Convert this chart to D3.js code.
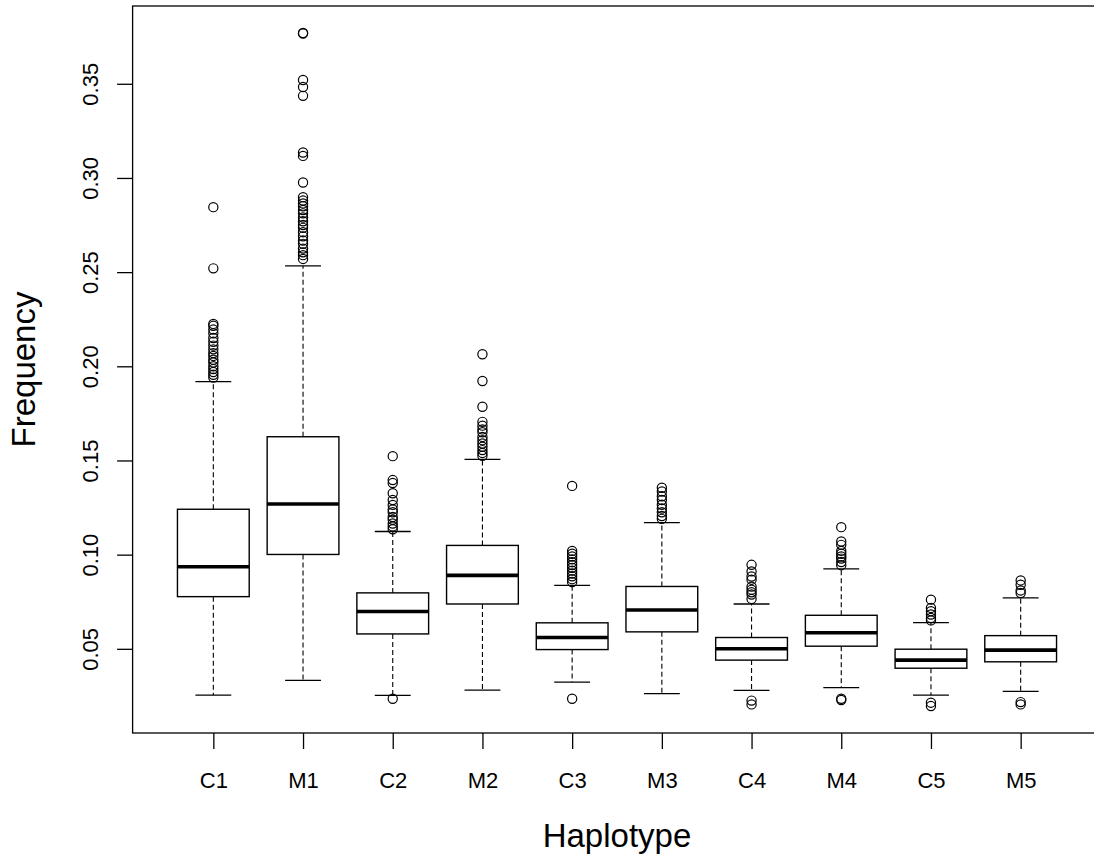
<!DOCTYPE html>
<html>
<head>
<meta charset="utf-8">
<script src="https://cdn.jsdelivr.net/npm/d3@7"></script>
<style>
  html, body { margin: 0; padding: 0; background: #fff; }
  svg { display: block; }
  text { font-family: "Liberation Sans", Arial, sans-serif; fill: #000; }
</style>
</head>
<body>
<svg id="chart" width="1094" height="860"></svg>
<script>
// ---- data ----
const categories = ["C1", "M1", "C2", "M2", "C3", "M3", "C4", "M4", "C5", "M5"];
const lowerWhisker = [0.0254, 0.0332, 0.0253, 0.0281, 0.0323, 0.0262, 0.0279, 0.0294, 0.0254, 0.0274];
const q1Values     = [0.0777, 0.1001, 0.0579, 0.0738, 0.0496, 0.0590, 0.0440, 0.0514, 0.0397, 0.0431];
const medianValues = [0.0936, 0.1269, 0.0698, 0.0890, 0.0560, 0.0706, 0.0500, 0.0585, 0.0440, 0.0493];
const q3Values     = [0.1241, 0.1626, 0.0797, 0.1049, 0.0638, 0.0831, 0.0560, 0.0678, 0.0498, 0.0570];
const upperWhisker = [0.1919, 0.2533, 0.1123, 0.1506, 0.0837, 0.1170, 0.0738, 0.0924, 0.0639, 0.0770];
const outliersC1 = [0.1940, 0.1955, 0.1970, 0.1985, 0.2000, 0.2020, 0.2035, 0.2055, 0.2070, 0.2090, 0.2110, 0.2130, 0.2150, 0.2175, 0.2195, 0.2215, 0.2225, 0.2520, 0.2845];
const outliersM1 = [0.2570, 0.2590, 0.2605, 0.2625, 0.2650, 0.2668, 0.2690, 0.2712, 0.2735, 0.2750, 0.2770, 0.2790, 0.2812, 0.2830, 0.2850, 0.2865, 0.2880, 0.2898, 0.2976, 0.3117, 0.3135, 0.3436, 0.3483, 0.3520, 0.3767, 0.3770];
const outliersC2 = [0.0235, 0.1135, 0.1150, 0.1165, 0.1185, 0.1200, 0.1225, 0.1240, 0.1264, 0.1290, 0.1326, 0.1380, 0.1396, 0.1523];
const outliersM2 = [0.1525, 0.1540, 0.1555, 0.1573, 0.1590, 0.1608, 0.1625, 0.1650, 0.1665, 0.1685, 0.1705, 0.1785, 0.1922, 0.2064];
const outliersC3 = [0.0235, 0.0855, 0.0870, 0.0885, 0.0900, 0.0915, 0.0930, 0.0945, 0.0960, 0.0975, 0.0990, 0.1005, 0.1020, 0.1365];
const outliersM3 = [0.1190, 0.1205, 0.1225, 0.1245, 0.1265, 0.1290, 0.1310, 0.1335, 0.1355];
const outliersC4 = [0.0205, 0.0225, 0.0765, 0.0788, 0.0800, 0.0814, 0.0830, 0.0867, 0.0884, 0.0911, 0.0946];
const outliersM4 = [0.0228, 0.0235, 0.0944, 0.0961, 0.0979, 0.0990, 0.1005, 0.1020, 0.1052, 0.1070, 0.1146];
const outliersC5 = [0.0196, 0.0214, 0.0651, 0.0664, 0.0682, 0.0700, 0.0717, 0.0761];
const outliersM5 = [0.0205, 0.0217, 0.0796, 0.0810, 0.0840, 0.0863];
const outlierLists = [outliersC1, outliersM1, outliersC2, outliersM2, outliersC3, outliersM3, outliersC4, outliersM4, outliersC5, outliersM5];
const yTickValues = [0.05, 0.10, 0.15, 0.20, 0.25, 0.30, 0.35];
const xTitle = "Haplotype";
const yTitle = "Frequency";

// ---- build table ----
const boxes = categories.map((c, i) => ({
  cat: c, pos: i + 1,
  lo: lowerWhisker[i], q1: q1Values[i], med: medianValues[i], q3: q3Values[i], hi: upperWhisker[i],
  out: outlierLists[i]
}));

// ---- layout ----
const plot = { left: 132.6, right: 1101.4, top: 6, bottom: 733 };

const allVals = boxes.flatMap(b => [b.lo, b.hi, ...b.out]);
const yMin = d3.min(allVals), yMax = d3.max(allVals);
const ext = (yMax - yMin) * 0.04;
const y = d3.scaleLinear().domain([yMin - ext, yMax + ext]).range([plot.bottom, plot.top]);
const x = d3.scaleLinear().domain([0.1, categories.length + 0.9]).range([plot.left, plot.right]);
const unit = x(2) - x(1);
const boxW = 0.8 * unit;
const capW = 0.4 * unit;

const svg = d3.select("#chart");
const g = svg.append("g");

// boxes
const bg = g.selectAll("g.box").data(boxes).join("g").attr("class", "box");

// whiskers (dashed)
bg.append("line")
  .attr("x1", d => x(d.pos)).attr("x2", d => x(d.pos))
  .attr("y1", d => y(d.q3)).attr("y2", d => y(d.hi))
  .attr("stroke", "#000").attr("stroke-width", 1.1).attr("stroke-dasharray", "5,3");
bg.append("line")
  .attr("x1", d => x(d.pos)).attr("x2", d => x(d.pos))
  .attr("y1", d => y(d.q1)).attr("y2", d => y(d.lo))
  .attr("stroke", "#000").attr("stroke-width", 1.1).attr("stroke-dasharray", "5,3");
// staples
bg.append("line")
  .attr("x1", d => x(d.pos) - capW / 2).attr("x2", d => x(d.pos) + capW / 2)
  .attr("y1", d => y(d.hi)).attr("y2", d => y(d.hi))
  .attr("stroke", "#000").attr("stroke-width", 1.3);
bg.append("line")
  .attr("x1", d => x(d.pos) - capW / 2).attr("x2", d => x(d.pos) + capW / 2)
  .attr("y1", d => y(d.lo)).attr("y2", d => y(d.lo))
  .attr("stroke", "#000").attr("stroke-width", 1.3);
// box rect
bg.append("rect")
  .attr("x", d => x(d.pos) - boxW / 2).attr("width", boxW)
  .attr("y", d => y(d.q3)).attr("height", d => y(d.q1) - y(d.q3))
  .attr("fill", "#fff").attr("stroke", "#000").attr("stroke-width", 1.4);
// median
bg.append("line")
  .attr("x1", d => x(d.pos) - boxW / 2).attr("x2", d => x(d.pos) + boxW / 2)
  .attr("y1", d => y(d.med)).attr("y2", d => y(d.med))
  .attr("stroke", "#000").attr("stroke-width", 3.6);
// outliers
bg.selectAll("circle").data(d => d.out.map(v => ({ pos: d.pos, v })))
  .join("circle")
  .attr("cx", d => x(d.pos)).attr("cy", d => y(d.v)).attr("r", 4.6)
  .attr("fill", "none").attr("stroke", "#000").attr("stroke-width", 1.2);

// frame (left, top, bottom; right side falls off canvas)
g.append("rect")
  .attr("x", plot.left).attr("y", plot.top)
  .attr("width", plot.right - plot.left).attr("height", plot.bottom - plot.top)
  .attr("fill", "none").attr("stroke", "#000").attr("stroke-width", 1.3);

// y axis
const yAxis = d3.axisLeft(y).tickValues(yTickValues).tickSize(15.5).tickFormat(d3.format(".2f"));
const ya = svg.append("g").attr("transform", `translate(${plot.left},0)`).call(yAxis);
ya.select(".domain").remove();
ya.selectAll(".tick line").attr("stroke", "#000").attr("stroke-width", 1.3);
ya.selectAll(".tick text")
  .attr("x", null).attr("dy", null)
  .attr("transform", `translate(${98 - plot.left},0) rotate(-90)`)
  .attr("text-anchor", "middle")
  .style("font-size", "22px").style("font-family", "'Liberation Sans', Arial, sans-serif").attr("fill", "#000");

// x axis
const xAxis = d3.axisBottom(x).tickValues(boxes.map(b => b.pos)).tickSize(16).tickFormat(d => categories[d - 1]);
const xa = svg.append("g").attr("transform", `translate(0,${plot.bottom})`).call(xAxis);
xa.select(".domain").remove();
xa.selectAll(".tick line").attr("stroke", "#000").attr("stroke-width", 1.3);
xa.selectAll(".tick text")
  .attr("y", 788 - plot.bottom).attr("dy", null)
  .style("font-size", "22px").style("font-family", "'Liberation Sans', Arial, sans-serif").attr("fill", "#000");

// titles
svg.append("text")
  .attr("x", (plot.left + plot.right) / 2).attr("y", 847)
  .attr("text-anchor", "middle").style("font-size", "33px")
  .text(xTitle);
svg.append("text")
  .attr("transform", `translate(35,${(plot.top + plot.bottom) / 2}) rotate(-90)`)
  .attr("text-anchor", "middle").style("font-size", "33px")
  .text(yTitle);
</script>
</body>
</html>
